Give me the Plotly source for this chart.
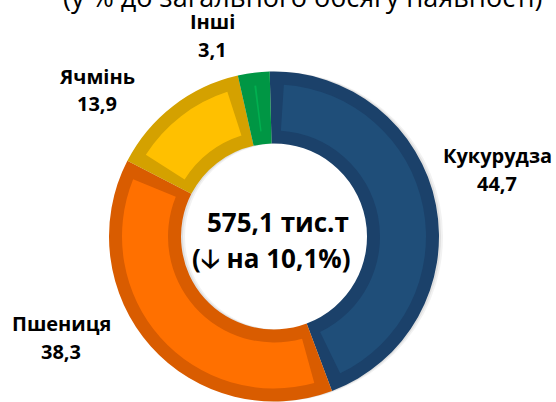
import plotly.graph_objects as go

# data
crops = ["Кукурудза", "Пшениця", "Ячмінь", "Інші"]
shares = [44.7, 38.3, 13.9, 3.1]
fill_colors = ["#1F4E79", "#FF7000", "#FFC000", "#00B050"]
edge_colors = ["#1B416A", "#D95C00", "#D4A100", "#009644"]
total_text = "575,1 тис.т"
change_text = "(<span style='font-family:DejaVu Sans'>🡣</span> на 10,1%)"
subtitle = "(у % до загального обсягу наявності)"

FONT = "Open Sans"
W, H = 556, 402
CX, CY = 274, 236.5      # ring centre, px from top-left
R_OUT, R_IN = 165, 93    # visible ring radii
EDGE = 13                # border band thickness
GAP = 1.45               # border band along slice sides, in share units
ROT = -1.5

# label name centres in pixels (x, y from top); value sits 28px lower
label_pos = [(497, 155), (61, 323), (97, 76), (212, 22)]


def px(x):
    return x / W


def py(y):
    return 1 - y / H


def ring_domain(r, dx=0):
    return dict(x=[px(CX + dx - r), px(CX + dx + r)],
                y=[max(0, py(CY + r)), py(CY - r)])


fig = go.Figure()

# soft shadow to the right of the ring
for off, alpha in ((4, 0.05), (2, 0.07)):
    fig.add_trace(
        go.Pie(
            values=[1],
            hole=R_IN / R_OUT,
            textinfo="none",
            hoverinfo="skip",
            marker=dict(colors=[f"rgba(0,0,0,{alpha})"], line=dict(width=0)),
            domain=ring_domain(R_OUT, off),
            showlegend=False,
        )
    )

# outer band: whole slices in the darker border colours
fig.add_trace(
    go.Pie(
        labels=crops,
        values=shares,
        sort=False,
        direction="clockwise",
        rotation=ROT,
        hole=R_IN / R_OUT,
        textinfo="none",
        hoverinfo="label+value",
        marker=dict(colors=edge_colors, line=dict(width=0)),
        domain=ring_domain(R_OUT),
        showlegend=False,
    )
)

# inner fill of each slice, inset from its border
inner_vals, inner_cols = [], []
for v, c in zip(shares, fill_colors):
    inner_vals += [GAP, v - 2 * GAP, GAP]
    inner_cols += ["rgba(0,0,0,0)", c, "rgba(0,0,0,0)"]

r_fill = R_OUT - EDGE
fig.add_trace(
    go.Pie(
        values=inner_vals,
        sort=False,
        direction="clockwise",
        rotation=ROT,
        hole=(R_IN + EDGE) / r_fill,
        textinfo="none",
        hoverinfo="skip",
        marker=dict(colors=inner_cols, line=dict(width=0)),
        domain=ring_domain(r_fill),
        showlegend=False,
    )
)

annotations = []
for name, val, (lx, ly) in zip(crops, shares, label_pos):
    for txt, yy in ((name, ly), (str(val).replace(".", ","), ly + 28)):
        annotations.append(
            dict(
                text=f"<b>{txt}</b>",
                x=px(lx),
                y=py(yy),
                xref="paper",
                yref="paper",
                xanchor="center",
                yanchor="middle",
                showarrow=False,
                font=dict(family=FONT, size=20, color="#000000"),
            )
        )

for txt, xx, yy in ((total_text, 278, 222), (change_text, 271, 258)):
    annotations.append(
        dict(
            text=f"<b>{txt}</b>",
            x=px(xx),
            y=py(yy),
            xref="paper",
            yref="paper",
            xanchor="center",
            yanchor="middle",
            showarrow=False,
            font=dict(family=FONT, size=26, color="#000000"),
        )
    )

annotations.append(
    dict(
        text=subtitle,
        x=px(303),
        y=py(17),
        xref="paper",
        yref="paper",
        xanchor="center",
        yanchor="bottom",
        showarrow=False,
        font=dict(family=FONT, size=27, color="#000000"),
    )
)

fig.update_layout(
    width=W,
    height=H,
    margin=dict(l=0, r=0, t=0, b=0),
    paper_bgcolor="white",
    plot_bgcolor="white",
    annotations=annotations,
)

fig.write_html(
    "out.html",
    config={"displayModeBar": False},
    post_script="document.body.style.margin='0';",
)
